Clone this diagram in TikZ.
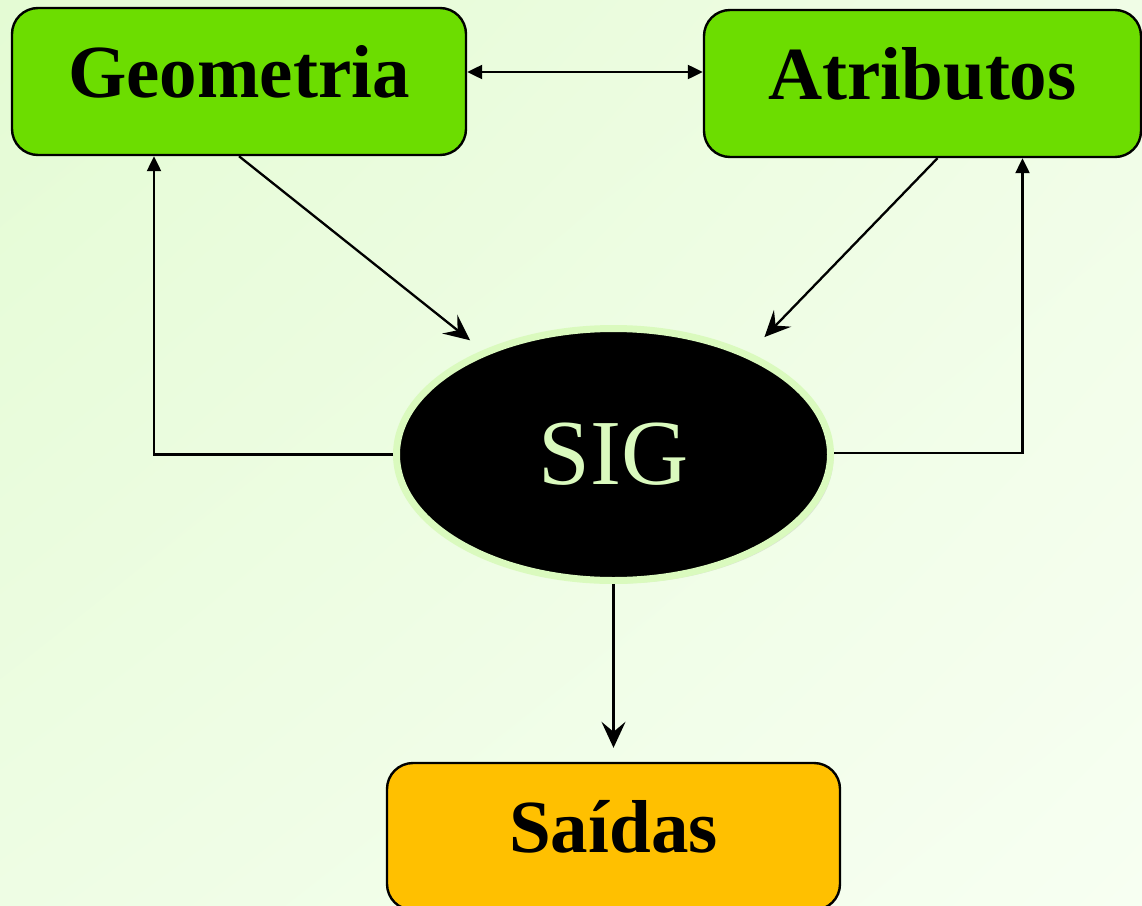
\documentclass[tikz,border=0pt]{standalone}
\usepackage{fontspec}
\setmainfont{Liberation Serif}
\usetikzlibrary{arrows.meta,shapes.geometric,shadows,shadings}

\definecolor{bgUL}{RGB}{228,251,212}
\definecolor{bgUR}{RGB}{240,253,230}
\definecolor{bgLL}{RGB}{238,253,228}
\definecolor{bgLR}{RGB}{247,255,242}
\definecolor{boxgreen}{RGB}{108,221,0}
\definecolor{boxorange}{RGB}{255,192,0}
\definecolor{sigring}{RGB}{218,250,190}

\begin{document}
\begin{tikzpicture}[x=1pt, y=-1pt,
    box/.style={draw=black, line width=2.4pt, rounded corners=26pt,
      minimum height=147pt, inner sep=0pt, text height=50pt, text depth=19pt,
      font=\fontsize{75}{80}\selectfont\bfseries},
    link/.style={line width=2.3pt},
    tri/.style={-{Triangle[length=15pt,width=14pt]}},
    barb/.style={-{Stealth[length=26pt,width=24pt,inset=10pt]}}
  ]
    % Background
    \shade[upper left=bgUL, upper right=bgUR, lower left=bgLL, lower right=bgLR]
      (0,0) rectangle (1142,905);
    \useasboundingbox (0,0) rectangle (1142,905);
    \clip (0,0) rectangle (1142,905);

    % Boxes
    \node[box, fill=boxgreen, minimum width=454pt] (geo) at (239,81.5) {Geometria};
    \node[box, fill=boxgreen, minimum width=437pt] (atr) at (922.5,83.5) {Atributos};
    \node[box, fill=boxorange, minimum width=453pt] (sai) at (613.5,836.5) {Saídas};

    % Central ellipse
    \node[ellipse, fill=black, draw=sigring, line width=7pt, inner sep=0pt,
      minimum width=434pt, minimum height=252pt,
      drop shadow={opacity=0.2, shadow xshift=3pt, shadow yshift=-3pt},
      text=sigring, font=\fontsize{93}{96}\selectfont] (sig) at (613.5,454.5) {SIG};

    % Connectors
    \draw[link, {Triangle[length=15pt,width=14pt]}-{Triangle[length=15pt,width=14pt]}]
      ([yshift=9.5pt]geo.east) -- ([yshift=11.5pt]atr.west);
    \draw[link, barb, shorten >=16pt] (geo.south) -- (sig);
    \draw[link, barb, shorten >=36pt] ([xshift=15pt]atr.south) -- ([xshift=-30pt]sig.north east);
    \draw[link, tri] (sig.west) -| ([xshift=-85pt]geo.south);
    \draw[link, tri] ([yshift=1.5pt]sig.east) -| ([xshift=100pt]atr.south);
    \draw[link, barb, shorten >=14pt] (sig) -- (sai);
  \end{tikzpicture}
\end{document}
